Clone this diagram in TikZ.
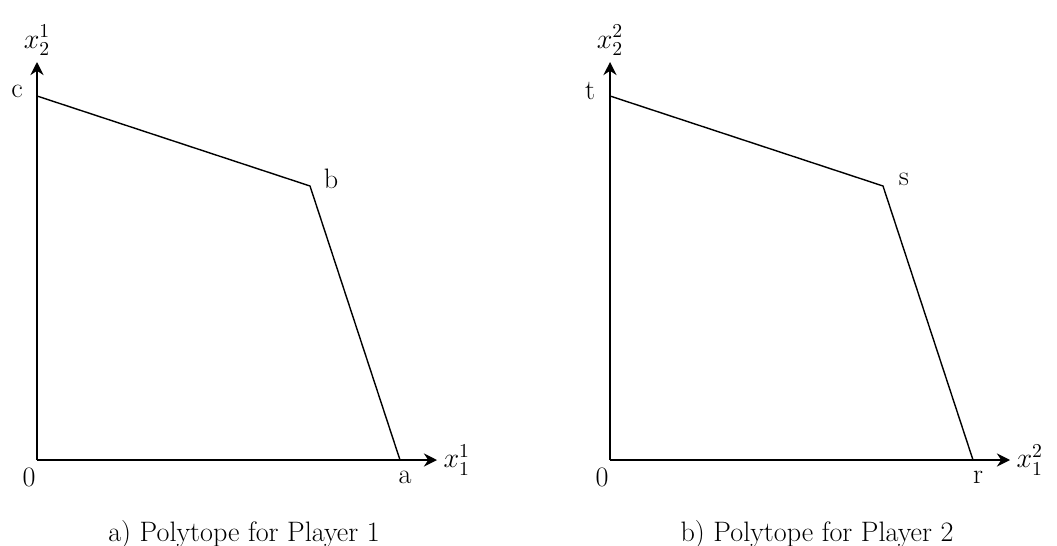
\RequirePackage{fix-cm}
\documentclass[tikz,border=0pt]{standalone}
\usepackage{amsmath}
\usepackage{tikz}
\usetikzlibrary{arrows.meta}

\begin{document}
\begin{tikzpicture}[>={Stealth[length=7.5pt, width=7.5pt, inset=2.5pt]}, thick, font=\fontsize{16}{19}\selectfont]
  \useasboundingbox (0,0) rectangle (21.14,10.9);

  % Player 1
  \coordinate (o1) at (0.74,1.70);
  \coordinate (a1) at (8.00,1.70);
  \coordinate (b1) at (6.20,7.18);
  \coordinate (c1) at (0.74,8.98);
  \node[anchor=west] (xa1) at (8.74,1.70) {$x_1^1$};
  \node[anchor=south] (xb1) at (0.74,9.66) {$x_2^1$};
  \draw[->] (o1) -- (xa1.west);
  \draw[->] (o1) -- (xb1.south);
  \draw (a1) -- (b1) -- (c1);
  \node (l0) at (0.58,1.36) {0};
  \node (la) at (8.10,1.36) {a};
  \node (lb) at (6.62,7.32) {b};
  \node (lc) at (0.34,9.08) {c};
  \node (cap1) at (4.88,0.22) {a) Polytope for Player 1};

  % Player 2
  \coordinate (o2) at (12.20,1.70);
  \coordinate (a2) at (19.46,1.70);
  \coordinate (b2) at (17.66,7.18);
  \coordinate (c2) at (12.20,8.98);
  \node[anchor=west] (xa2) at (20.20,1.70) {$x_1^2$};
  \node[anchor=south] (xb2) at (12.20,9.66) {$x_2^2$};
  \draw[->] (o2) -- (xa2.west);
  \draw[->] (o2) -- (xb2.south);
  \draw (a2) -- (b2) -- (c2);
  \node (m0) at (12.04,1.36) {0};
  \node (mr) at (19.56,1.36) {r};
  \node (ms) at (18.08,7.32) {s};
  \node (mt) at (11.80,9.08) {t};
  \node (cap2) at (16.34,0.22) {b) Polytope for Player 2};
\end{tikzpicture}
\end{document}
